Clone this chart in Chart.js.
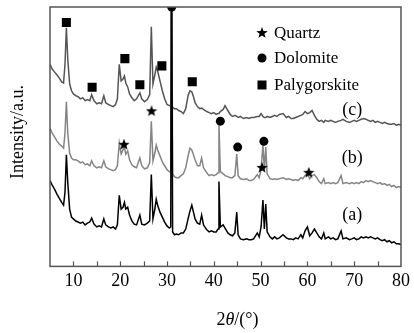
<!DOCTYPE html>
<html>
<head>
<meta charset="utf-8">
<script src="https://cdn.jsdelivr.net/npm/chart.js@4.4.1/dist/chart.umd.min.js"></script>
<style>
  html, body { margin: 0; padding: 0; background: #fff; }
</style>
</head>
<body>
<canvas id="xrd" width="414" height="333"></canvas>
<script>
// 2θ grid (degrees) shared by the three patterns
const twoTheta = [
  5, 5.5, 6, 6.5, 7, 7.5, 7.9, 8.2, 8.5, 8.8,
  9.2, 9.6, 10, 10.5, 11, 11.5, 12, 12.5, 13, 13.5,
  13.9, 14.4, 15, 15.5, 16, 16.5, 16.9, 17.5, 18, 18.5,
  19, 19.4, 19.8, 20.2, 20.6, 20.9, 21.2, 21.6, 22, 22.5,
  23, 23.5, 24.2, 24.6, 25.2, 25.8, 26.3, 26.65, 27, 27.4,
  27.7, 28, 28.5, 29, 29.5, 30, 30.5, 30.8, 30.96, 31.2,
  31.6, 32, 32.5, 33, 33.5, 34, 34.5, 34.9, 35.3, 35.6,
  36, 36.5, 37, 37.4, 37.8, 38.5, 39, 39.5, 40, 40.5,
  40.9, 41.1, 41.4, 42, 42.4, 43, 43.5, 44, 44.5, 44.9,
  45.2, 45.7, 46.3, 47, 47.5, 48, 48.5, 49.3, 49.7, 50.1,
  50.5, 50.8, 51.1, 51.4, 52, 52.5, 53, 53.5, 54, 54.8,
  55.5, 56, 56.5, 57, 57.5, 58, 58.6, 59, 59.5, 60,
  60.5, 61, 61.5, 62, 62.5, 63, 63.5, 63.8, 64.5, 65,
  65.5, 66, 66.5, 67.2, 67.6, 68.3, 69, 69.5, 70, 70.5,
  71, 71.5, 72, 72.5, 73, 73.5, 74, 74.5, 75, 75.5,
  76, 76.5, 77, 77.5, 78, 78.5, 79, 79.5, 80
];

// sample (a)
const intensityA = [
  33.1, 31.2, 29.7, 27.8, 26.2, 24.7, 23.6, 28.5, 43, 32.3,
  22.1, 19.0, 18.3, 17.5, 17.1, 16.7, 17.1, 16.0, 16.7, 17.1,
  18.6, 16.3, 15.2, 15.6, 15.2, 18.3, 16.0, 15.2, 14.8, 15.2,
  14.4, 16.0, 27.4, 22.1, 22.8, 24.7, 22.1, 22.8, 19.8, 17.5,
  16.3, 16.0, 19.8, 16.3, 16.0, 16.7, 17.5, 35.4, 18.3, 22.1,
  25.9, 23.6, 20.9, 19.0, 17.1, 15.6, 14.8, 15.2, 140, 13.3,
  12.2, 12.5, 12.2, 12.9, 12.9, 14.4, 18.3, 21.3, 23.6, 21.3,
  18.3, 16.7, 16.3, 19.8, 16.0, 14.1, 13.3, 13.7, 13.3, 13.3,
  14.4, 32.7, 15.2, 16.0, 14.8, 12.9, 12.2, 11.8, 12.9, 20.9,
  12.2, 10.6, 10.3, 10.6, 10.3, 10.3, 10.6, 12.9, 11.4, 15.2,
  25.6, 14.4, 24.0, 13.3, 11.4, 10.6, 11.4, 10.6, 11.0, 12.2,
  11.0, 10.6, 10.6, 10.3, 11.0, 10.6, 12.2, 11.0, 13.7, 15.2,
  11.8, 12.9, 14.4, 12.9, 11.4, 10.6, 12.9, 10.6, 11.4, 10.6,
  11.0, 10.3, 10.6, 13.7, 10.6, 11.0, 10.3, 10.6, 11.0, 10.3,
  10.6, 11.4, 11.0, 11.4, 11.0, 11.4, 11.0, 10.6, 11.0, 10.3,
  9.9, 10.3, 9.5, 9.9, 9.1, 9.5, 8.7, 8.7, 8.4
];

// sample (b)
const intensityB = [
  53.2, 51.3, 49.8, 48.3, 47.1, 46.4, 45.6, 51.3, 63.5, 51.3,
  43.7, 41.8, 41.1, 41.1, 40.7, 39.9, 40.3, 39.2, 39.5, 38.8,
  40.7, 38.8, 38.0, 38.4, 38.0, 40.7, 38.4, 37.6, 37.3, 36.9,
  37.3, 38.8, 47.5, 43.3, 44.9, 46.0, 43.3, 44.5, 41.1, 39.2,
  38.4, 38.0, 41.8, 38.8, 37.6, 38.0, 39.9, 55.9, 40.7, 43.7,
  46.8, 44.9, 42.6, 40.3, 38.8, 37.3, 36.5, 36.5, 140, 35.7,
  34.6, 34.2, 34.2, 35.0, 35.7, 38.0, 42.6, 45.6, 44.9, 43.3,
  41.1, 38.8, 38.8, 41.8, 38.0, 36.1, 35.0, 35.4, 35.0, 35.4,
  36.1, 54.8, 36.5, 35.7, 35.0, 34.6, 34.2, 34.2, 35.0, 43.3,
  35.0, 33.8, 33.5, 33.8, 33.1, 33.1, 33.5, 35.4, 34.2, 37.3,
  46.8, 37.3, 46.0, 35.7, 33.8, 33.5, 33.8, 33.5, 33.8, 34.2,
  33.5, 33.8, 33.5, 33.1, 33.5, 33.1, 34.2, 33.8, 35.0, 35.7,
  33.8, 35.0, 35.4, 34.2, 32.7, 31.9, 33.8, 31.9, 32.3, 31.9,
  32.3, 31.9, 32.3, 35.0, 31.9, 32.3, 31.9, 32.3, 31.9, 32.3,
  31.9, 32.7, 32.3, 33.1, 32.7, 33.1, 32.7, 32.3, 31.9, 32.3,
  31.6, 31.9, 31.2, 31.6, 30.8, 31.2, 30.4, 30.8, 30.4
];

// sample (c)
const intensityC = [
  77.9, 76.0, 74.9, 73.8, 72.6, 71.1, 70.7, 77.9, 92.0, 79.8,
  70.3, 67.7, 66.5, 65.8, 65.4, 64.6, 65.0, 63.9, 64.3, 63.9,
  66.2, 63.9, 62.7, 63.1, 62.7, 65.8, 63.1, 62.4, 62.0, 61.6,
  62.4, 64.6, 77.9, 71.5, 72.2, 73.4, 70.7, 69.2, 66.5, 65.0,
  63.9, 64.6, 66.9, 64.6, 63.5, 64.3, 66.2, 92.4, 70.3, 73.8,
  76.8, 75.3, 71.5, 67.7, 64.6, 62.4, 62.0, 61.8, 61.6, 61.3,
  60.8, 60.8, 60.1, 59.7, 58.9, 60.8, 65.8, 67.7, 67.3, 65.8,
  63.1, 61.6, 60.8, 61.0, 60.5, 59.7, 59.3, 58.9, 59.3, 58.6,
  58.9, 59.0, 59.7, 60.5, 62.0, 60.1, 58.6, 57.8, 58.2, 57.8,
  57.4, 57.8, 57.0, 57.4, 57.0, 57.4, 57.4, 57.8, 57.8, 58.9,
  57.8, 57.4, 57.4, 57.8, 57.4, 57.8, 58.2, 57.8, 58.6, 58.9,
  57.4, 57.8, 57.0, 57.0, 57.4, 57.8, 58.2, 58.6, 59.7, 58.9,
  59.3, 60.1, 58.2, 56.7, 55.9, 56.3, 55.5, 56.3, 55.9, 56.3,
  55.9, 55.5, 55.9, 56.3, 56.7, 55.9, 55.5, 55.9, 56.3, 55.9,
  56.3, 56.7, 57.0, 56.7, 56.3, 55.9, 56.3, 55.5, 55.9, 55.5,
  55.1, 55.5, 55.1, 54.8, 54.8, 55.1, 54.4, 54.8, 54.4
];

// phase markers
const quartzTheta = [20.8, 26.7, 50.3, 60.3];
const quartzY = [46.9, 59.8, 38.0, 36.1];
const dolomiteTheta = [31.0, 41.4, 45.1, 50.7];
const dolomiteY = [100, 56.0, 46.0, 48.2];
const palyTheta = [8.5, 14.0, 21.0, 24.2, 28.9, 35.4];
const palyY = [94.0, 69.1, 80.1, 70.0, 77.3, 71.2];

const sampleLabels = ['(a)', '(b)', '(c)'];
const sampleLabelY = [19.8, 41.8, 60.1];
const sampleLabelTheta = 69.6;

const legendNames = ['Quartz', 'Dolomite', 'Palygorskite'];

const SERIF = '"Liberation Serif", "DejaVu Serif", serif';

function zip(xs, ys) {
  return xs.map((x, i) => ({ x: x, y: ys[i] }));
}

// filled star used as point style
function makeStar(size) {
  const c = document.createElement('canvas');
  c.width = size; c.height = size;
  const g = c.getContext('2d');
  const R = size / 2, r = R * 0.42;
  g.beginPath();
  for (let i = 0; i < 10; i++) {
    const rad = i % 2 === 0 ? R : r;
    const a = -Math.PI / 2 + i * Math.PI / 5;
    g.lineTo(R + rad * Math.cos(a), R + rad * Math.sin(a));
  }
  g.closePath();
  g.fillStyle = '#000';
  g.fill();
  return c;
}
const starImg = makeStar(12);

// frame, inner ticks, labels, legend, axis titles
const decorations = {
  id: 'decorations',
  afterDraw(chart) {
    const ctx = chart.ctx;
    const a = chart.chartArea;
    const xs = chart.scales.x, ys = chart.scales.y;
    ctx.save();

    // inner ticks
    ctx.strokeStyle = '#555';
    ctx.lineWidth = 1.2;
    xs.ticks.forEach(t => {
      if (t.value <= xs.min || t.value >= xs.max) return;
      const px = Math.round(xs.getPixelForValue(t.value)) + 0.5;
      ctx.beginPath();
      ctx.moveTo(px, a.bottom);
      ctx.lineTo(px, a.bottom - 5);
      ctx.stroke();
    });

    // frame
    ctx.lineWidth = 1.5;
    ctx.strokeRect(a.left, a.top, a.right - a.left, a.bottom - a.top);

    // sample labels
    ctx.fillStyle = '#000';
    ctx.font = '18px ' + SERIF;
    ctx.textAlign = 'center';
    ctx.textBaseline = 'middle';
    sampleLabels.forEach((s, i) => {
      ctx.fillText(s, xs.getPixelForValue(sampleLabelTheta), ys.getPixelForValue(sampleLabelY[i]));
    });

    // legend
    const lx = a.right - 139;
    const ly = [a.top + 26, a.top + 51, a.top + 78];
    ctx.font = '17px ' + SERIF;
    ctx.textAlign = 'left';
    ctx.drawImage(starImg, lx - 6, ly[0] - 6);
    ctx.beginPath();
    ctx.arc(lx, ly[1], 4.5, 0, Math.PI * 2);
    ctx.fill();
    ctx.fillRect(lx - 4.5, ly[2] - 4.5, 9, 9);
    legendNames.forEach((n, i) => ctx.fillText(n, lx + 12, ly[i] + 1));

    // x title with italic theta
    ctx.textBaseline = 'alphabetic';
    const parts = [['2', ''], ['\u03b8', 'italic '], ['/(\u00b0)', '']];
    let total = 0;
    parts.forEach(p => { ctx.font = p[1] + '18px ' + SERIF; total += ctx.measureText(p[0]).width; });
    let tx = (a.left + a.right) / 2 + 12 - total / 2;
    parts.forEach(p => {
      ctx.font = p[1] + '18px ' + SERIF;
      ctx.fillText(p[0], tx, a.bottom + 59);
      tx += ctx.measureText(p[0]).width;
    });

    // y title
    ctx.translate(18, a.top + 125);
    ctx.rotate(-Math.PI / 2);
    ctx.font = '18px ' + SERIF;
    ctx.textAlign = 'center';
    ctx.textBaseline = 'middle';
    ctx.fillText('Intensity/a.u.', 0, 0);

    ctx.restore();
  }
};

const lineStyle = { pointRadius: 0, borderWidth: 1.5, tension: 0, fill: false };

new Chart(document.getElementById('xrd'), {
  type: 'line',
  data: {
    datasets: [
      Object.assign({ label: '(c)', data: zip(twoTheta, intensityC), borderColor: '#555', order: 3 }, lineStyle),
      Object.assign({ label: '(b)', data: zip(twoTheta, intensityB), borderColor: '#858585', order: 2 }, lineStyle),
      Object.assign({ label: '(a)', data: zip(twoTheta, intensityA), borderColor: '#000', order: 1 }, lineStyle),
      { type: 'scatter', label: 'Quartz', data: zip(quartzTheta, quartzY), pointStyle: starImg, order: 0, clip: 0 },
      { type: 'scatter', label: 'Dolomite', data: zip(dolomiteTheta, dolomiteY), pointStyle: 'circle', pointRadius: 4.5,
        backgroundColor: '#000', borderColor: '#000', borderWidth: 0, order: 0, clip: 0 },
      { type: 'scatter', label: 'Palygorskite', data: zip(palyTheta, palyY), pointStyle: 'rect', pointRadius: 6.4,
        backgroundColor: '#000', borderColor: '#000', borderWidth: 0, order: 0, clip: 0 }
    ]
  },
  options: {
    responsive: false,
    animation: false,
    devicePixelRatio: 1,
    layout: { padding: { left: 50, right: 7, top: 7, bottom: 37 } },
    plugins: { legend: { display: false }, tooltip: { enabled: false } },
    scales: {
      x: {
        type: 'linear',
        min: 5,
        max: 80,
        grid: { display: false, drawTicks: false },
        border: { display: false },
        ticks: {
          stepSize: 5,
          padding: 4,
          color: '#000',
          font: { family: SERIF, size: 18 },
          autoSkip: false,
          maxRotation: 0,
          callback: v => (v % 10 === 0 ? v : '')
        }
      },
      y: {
        display: false,
        min: 0,
        max: 100
      }
    }
  },
  plugins: [decorations]
});
</script>
</body>
</html>
